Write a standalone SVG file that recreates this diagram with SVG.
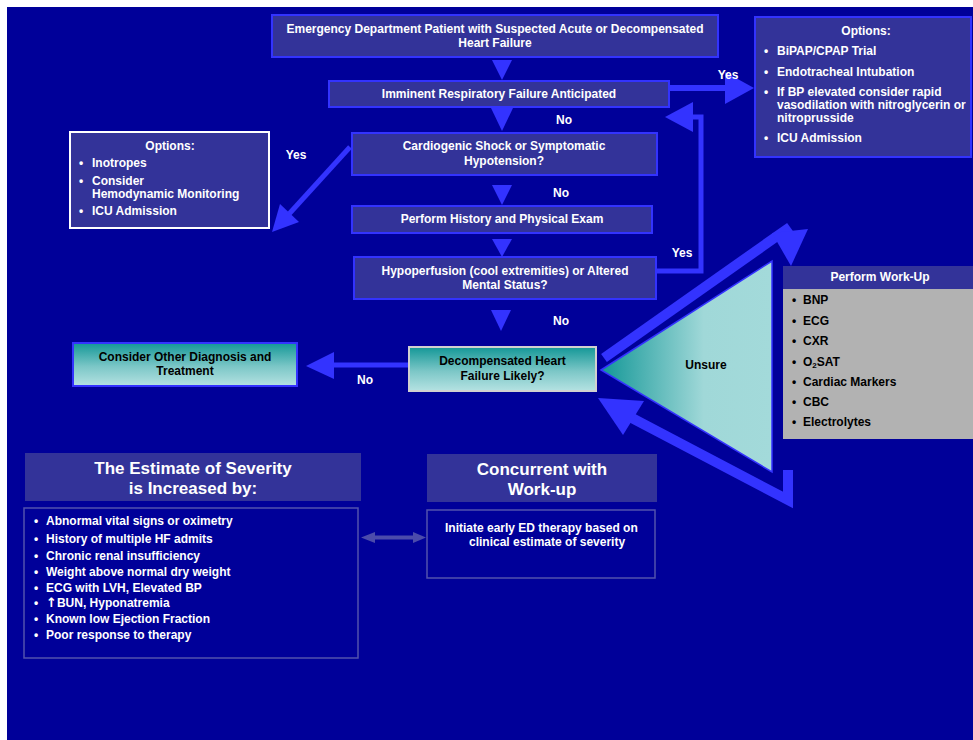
<svg xmlns="http://www.w3.org/2000/svg" width="973" height="740" viewBox="0 0 973 740">
<defs>
<style>
.t{font-family:"Liberation Sans",Arial,sans-serif;font-weight:bold;font-size:12px;fill:#ffffff}
.k{fill:#000000}
.c{text-anchor:middle}
.big{font-size:17px}
.box{fill:#333399;stroke:#3333ff;stroke-width:2}
.dim{fill:none;stroke:#5252ad;stroke-width:1.5}
.ln{fill:none;stroke:#3333ff}
.ah{fill:#3333ff}
</style>
<linearGradient id="gv" x1="0" y1="0" x2="0" y2="1">
<stop offset="0" stop-color="#139797"/>
<stop offset="0.55" stop-color="#7cc7c7"/>
<stop offset="1" stop-color="#b5e2e2"/>
</linearGradient>
<linearGradient id="gh" x1="0" y1="0" x2="1" y2="0">
<stop offset="0" stop-color="#139797"/>
<stop offset="0.6" stop-color="#a0d8d8"/>
<stop offset="1" stop-color="#a3dada"/>
</linearGradient>
</defs>
<rect x="7" y="7" width="966" height="733" fill="#000099"/>

<g id="connectors">
<polygon class="ah" points="492,60 512,60 502,80"/>
<polygon class="ah" points="491,108 513,108 502,131"/>
<polygon class="ah" points="492,185 512,185 502,205"/>
<polygon class="ah" points="492,239 512,239 502,257"/>
<polygon class="ah" points="491,310 511,310 501,331"/>
<line class="ln" x1="669" y1="88" x2="727" y2="88" stroke-width="6"/>
<polygon class="ah" points="725,72 725,104 754,88"/>
<path class="ln" d="M656,271 H701 V117 H690" stroke-width="5" stroke-linejoin="miter"/>
<polygon class="ah" points="693,102 693,132 665,117"/>
<line class="ln" x1="350" y1="147" x2="289" y2="214" stroke-width="5"/>
<polygon class="ah" points="272,232 299,222 280,204"/>
<line class="ln" x1="409" y1="365" x2="330" y2="365" stroke-width="5"/>
<polygon class="ah" points="306,366 334,352 334,379"/>
<line class="ln" x1="604" y1="358" x2="790" y2="227" stroke-width="10"/>
<polygon class="ah" points="772,233 808,229 791,266"/>
<path class="ln" d="M788,470 V500 L630,417" stroke-width="10" stroke-linejoin="miter"/>
<polygon class="ah" points="598,398 644,401 623,435"/>
<polygon fill="#4b4bab" points="361,537.5 375,532 375,535.5 413,535.5 413,532 426,537.5 413,543 413,539.5 375,539.5 375,543"/>
<text class="t c" x="728" y="79">Yes</text>
<text class="t c" x="564" y="124">No</text>
<text class="t c" x="296" y="159">Yes</text>
<text class="t c" x="561" y="197">No</text>
<text class="t c" x="682" y="257">Yes</text>
<text class="t c" x="561" y="325">No</text>
<text class="t c" x="365" y="384">No</text>
</g>

<g id="n-ed">
<rect class="box" x="272" y="15" width="446" height="42"/>
<text class="t c" x="495" y="33">Emergency Department Patient with Suspected Acute or Decompensated</text>
<text class="t c" x="495" y="47">Heart Failure</text>
</g>

<g id="n-irf">
<rect class="box" x="329" y="81" width="340" height="26"/>
<text class="t c" x="499" y="98">Imminent Respiratory Failure Anticipated</text>
</g>

<g id="n-opt-right">
<rect class="box" x="755" y="17" width="216" height="140"/>
<text class="t c" x="866" y="35">Options:</text>
<text class="t" x="764" y="55">•</text><text class="t" x="777" y="55">BiPAP/CPAP Trial</text>
<text class="t" x="764" y="76">•</text><text class="t" x="777" y="76">Endotracheal Intubation</text>
<text class="t" x="764" y="96">•</text><text class="t" x="777" y="96">If BP elevated consider rapid</text>
<text class="t" x="777" y="109">vasodilation with nitroglycerin or</text>
<text class="t" x="777" y="122">nitroprusside</text>
<text class="t" x="764" y="142">•</text><text class="t" x="777" y="142">ICU Admission</text>
</g>

<g id="n-shock">
<rect class="box" x="352" y="133" width="305" height="42"/>
<text class="t c" x="504" y="150">Cardiogenic Shock or Symptomatic</text>
<text class="t c" x="504" y="165">Hypotension?</text>
</g>

<g id="n-opt-left">
<rect x="70" y="132" width="199" height="96" fill="#333399" stroke="#ffffff" stroke-width="2"/>
<text class="t c" x="170" y="150">Options:</text>
<text class="t" x="79" y="167">•</text><text class="t" x="92" y="167">Inotropes</text>
<text class="t" x="79" y="185">•</text><text class="t" x="92" y="185">Consider</text>
<text class="t" x="92" y="198">Hemodynamic Monitoring</text>
<text class="t" x="79" y="215">•</text><text class="t" x="92" y="215">ICU Admission</text>
</g>

<g id="n-hist">
<rect class="box" x="352" y="206" width="300" height="27"/>
<text class="t c" x="502" y="223">Perform History and Physical Exam</text>
</g>

<g id="n-hypo">
<rect class="box" x="354" y="257" width="302" height="42"/>
<text class="t c" x="505" y="275">Hypoperfusion (cool extremities) or Altered</text>
<text class="t c" x="505" y="289">Mental Status?</text>
</g>

<g id="n-dhf">
<rect x="409" y="347" width="187" height="44" fill="url(#gv)" stroke="#d0d0d0" stroke-width="2"/>
<text class="t k c" x="502.5" y="365">Decompensated Heart</text>
<text class="t k c" x="502.5" y="380">Failure Likely?</text>
</g>

<g id="n-other">
<rect x="73" y="343" width="224" height="43" fill="url(#gv)" stroke="#3333ff" stroke-width="2"/>
<text class="t k c" x="185" y="361">Consider Other Diagnosis and</text>
<text class="t k c" x="185" y="375">Treatment</text>
</g>

<g id="n-unsure">
<polygon points="601,370 772,261 772,472" fill="url(#gh)" stroke="#3333ff" stroke-width="1.5"/>
<text class="t k c" x="706" y="369">Unsure</text>
</g>

<g id="n-workup">
<rect x="783" y="266" width="190" height="23" fill="#333399"/>
<rect x="783" y="289" width="190" height="150" fill="#b2b2b2"/>
<text class="t c" x="880" y="281">Perform Work-Up</text>
<text class="t k" x="792" y="304">•</text><text class="t k" x="803" y="304">BNP</text>
<text class="t k" x="792" y="325">•</text><text class="t k" x="803" y="325">ECG</text>
<text class="t k" x="792" y="345">•</text><text class="t k" x="803" y="345">CXR</text>
<text class="t k" x="792" y="366">•</text><text class="t k" x="803" y="366">O<tspan font-size="8" dy="2">2</tspan><tspan dy="-2">SAT</tspan></text>
<text class="t k" x="792" y="386">•</text><text class="t k" x="803" y="386">Cardiac Markers</text>
<text class="t k" x="792" y="406">•</text><text class="t k" x="803" y="406">CBC</text>
<text class="t k" x="792" y="426">•</text><text class="t k" x="803" y="426">Electrolytes</text>
</g>

<g id="n-sev-head">
<rect x="25" y="453" width="336" height="48" fill="#333399"/>
<text class="t big c" x="193" y="474">The Estimate of Severity</text>
<text class="t big c" x="193" y="494">is Increased by:</text>
</g>

<g id="n-sev-list">
<rect class="dim" x="24" y="508" width="334" height="150"/>
<text class="t" x="34" y="525">•</text><text class="t" x="46" y="525">Abnormal vital signs or oximetry</text>
<text class="t" x="34" y="543">•</text><text class="t" x="46" y="543">History of multiple HF admits</text>
<text class="t" x="34" y="560">•</text><text class="t" x="46" y="560">Chronic renal insufficiency</text>
<text class="t" x="34" y="576">•</text><text class="t" x="46" y="576">Weight above normal dry weight</text>
<text class="t" x="34" y="592">•</text><text class="t" x="46" y="592">ECG with LVH, Elevated BP</text>
<text class="t" x="34" y="607">•</text><text class="t" x="46" y="607"><tspan font-family="'DejaVu Sans',sans-serif" font-size="13">↑</tspan>BUN, Hyponatremia</text>
<text class="t" x="34" y="623">•</text><text class="t" x="46" y="623">Known low Ejection Fraction</text>
<text class="t" x="34" y="639">•</text><text class="t" x="46" y="639">Poor response to therapy</text>
</g>

<g id="n-conc-head">
<rect x="427" y="454" width="230" height="48" fill="#333399"/>
<text class="t big c" x="542" y="475">Concurrent with</text>
<text class="t big c" x="542" y="495">Work-up</text>
</g>

<g id="n-conc-body">
<rect class="dim" x="427" y="510" width="228" height="68"/>
<text class="t" x="445" y="532">Initiate early ED therapy based on</text>
<text class="t" x="469" y="546">clinical estimate of severity</text>
</g>
</svg>
